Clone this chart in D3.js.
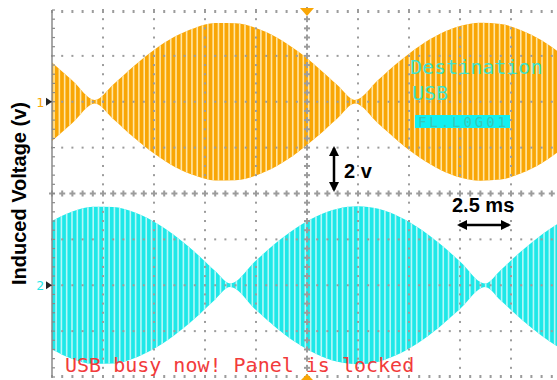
<!DOCTYPE html>
<html>
<head>
<meta charset="utf-8">
<script src="https://cdn.jsdelivr.net/npm/d3@7"></script>
<style>
  body { margin: 0; background: #fff; }
</style>
</head>
<body>
<svg id="chart" width="557" height="380"></svg>
<script>
// scope settings: 2.5 ms/div, 2 V/div
const timeTicks = [-12.5, -10, -7.5, -5, -2.5, 0, 2.5, 5, 7.5, 10, 12.5];
const voltTicks = [-8, -6, -4, -2, 0, 2, 4, 6, 8];

// envelope (half peak-to-peak, V)
const ch1Times = [-12.5, -11.5, -10.4, -9.5, -8.5, -7.5, -6.5, -5.5, -4.5, -3.5, -2.5, -1.5, -0.5, 0.5, 1.5, 2.35, 3.5, 4.5, 5.5, 6.5, 7.5, 8.5, 9.5, 10.5, 11.5, 12.5];
const ch1Amp   = [1.71, 0.93, 0.08, 0.75, 1.55, 2.26, 2.83, 3.22, 3.43, 3.42, 3.21, 2.81, 2.23, 1.52, 0.72, 0.08, 0.96, 1.74, 2.42, 2.95, 3.30, 3.44, 3.39, 3.12, 2.68, 2.06];
const ch2Times = [-12.5, -11.5, -10.5, -9.5, -8.5, -7.5, -6.5, -5.5, -4.5, -3.77, -2.5, -1.5, -0.5, 0.5, 1.5, 2.5, 3.5, 4.5, 5.5, 6.5, 7.5, 8.73, 9.5, 10.5, 11.5, 12.5];
const ch2Amp   = [2.80, 3.21, 3.42, 3.41, 3.19, 2.77, 2.18, 1.45, 0.62, 0.08, 1.08, 1.86, 2.52, 3.02, 3.34, 3.44, 3.33, 3.00, 2.49, 1.82, 1.04, 0.08, 0.67, 1.48, 2.20, 2.80];
const channelOffsets = [4, -4];
const channelNames = ['1', '2'];
const carrierPeriod = 0.26; // ms, one bar per carrier cycle

const svg = d3.select('#chart');
const x = d3.scaleLinear().domain([-12.5, 12.5]).range([52, 562]);
const y = d3.scaleLinear().domain([-8, 8]).range([377, 10]);

const colors = ['#F9A605', '#1EE8E8'];
const paleColors = ['#FFE6A6', '#B6F7F7'];
const gridColor = '#9c9c9c';

const defs = svg.append('defs');
defs.append('clipPath').attr('id', 'plot')
  .append('rect')
  .attr('x', x(-12.5)).attr('y', y(8))
  .attr('width', x(12.5) - x(-12.5)).attr('height', y(-8) - y(8));

defs.append('marker')
  .attr('id', 'head').attr('viewBox', '0 0 10 10')
  .attr('refX', 8).attr('refY', 5)
  .attr('markerWidth', 4).attr('markerHeight', 4)
  .attr('orient', 'auto-start-reverse')
  .append('path').attr('d', 'M0,0 L10,5 L0,10 z').attr('fill', '#000');

// traces
const channels = [
  { times: ch1Times, amp: ch1Amp },
  { times: ch2Times, amp: ch2Amp }
];
const stripes = d3.range(-12.5 + 0.1, 12.5, carrierPeriod);

channels.forEach((ch, i) => {
  const pts = ch.times.map((t, j) => ({ t: t, a: ch.amp[j] }));
  const off = channelOffsets[i];
  const area = d3.area()
    .x(d => x(d.t))
    .y0(d => y(off - d.a))
    .y1(d => y(off + d.a))
    .curve(d3.curveMonotoneX);

  defs.append('clipPath').attr('id', 'env' + i)
    .append('path').attr('d', area(pts));

  const g = svg.append('g').attr('clip-path', 'url(#plot)');
  g.append('path').attr('d', area(pts)).attr('fill', colors[i]);

  g.append('g').attr('clip-path', 'url(#env' + i + ')')
    .selectAll('line')
    .data(stripes)
    .enter()
    .append('line')
    .attr('x1', d => x(d + i * 0.1)).attr('x2', d => x(d + i * 0.1))
    .attr('y1', y(off + 4)).attr('y2', y(off - 4))
    .attr('stroke', paleColors[i])
    .attr('stroke-width', 1.6);
});

// graticule
const grid = svg.append('g');
const minorT = d3.range(-12.5, 12.51, 0.5);
const minorV = d3.range(-8, 8.01, 0.4);

timeTicks.forEach(t => {
  if (t === -12.5) return;
  minorV.forEach(v => {
    if (t === 0) {
      grid.append('rect').attr('x', x(t) - 1).attr('y', y(v) - 3).attr('width', 2).attr('height', 6).attr('fill', gridColor);
      grid.append('rect').attr('x', x(t) - 3).attr('y', y(v) - 1).attr('width', 6).attr('height', 2).attr('fill', gridColor);
    } else {
      grid.append('rect').attr('x', x(t) - 1).attr('y', y(v) - 1).attr('width', 2).attr('height', 2).attr('fill', gridColor);
    }
  });
});

voltTicks.forEach(v => {
  minorT.forEach(t => {
    if (v === 0) {
      grid.append('rect').attr('x', x(t) - 1).attr('y', y(v) - 3).attr('width', 2).attr('height', 6).attr('fill', gridColor);
      grid.append('rect').attr('x', x(t) - 3).attr('y', y(v) - 1).attr('width', 6).attr('height', 2).attr('fill', gridColor);
    } else {
      const h = (v === 8 || v === -8) ? 3 : 2;
      const yy = v === 8 ? y(v) : (v === -8 ? y(v) - 2 : y(v) - 1);
      grid.append('rect').attr('x', x(t) - 1).attr('y', yy).attr('width', 2).attr('height', h).attr('fill', gridColor);
    }
  });
});

// left frame with ticks
grid.append('line')
  .attr('x1', x(-12.5)).attr('x2', x(-12.5))
  .attr('y1', y(8)).attr('y2', y(-8))
  .attr('stroke', '#8a8a8a').attr('stroke-width', 1.5);
grid.selectAll('.ltick')
  .data(minorV)
  .enter()
  .append('line')
  .attr('x1', x(-12.5)).attr('x2', x(-12.5) + 3)
  .attr('y1', d => y(d)).attr('y2', d => y(d))
  .attr('stroke', '#8a8a8a').attr('stroke-width', 1.2);

// trigger position markers
svg.append('path')
  .attr('d', `M${x(0) - 7},${y(8) - 2} L${x(0) + 7},${y(8) - 2} L${x(0)},${y(8) + 6} z`)
  .attr('fill', '#F9A605');
svg.append('path')
  .attr('d', `M${x(0) - 7},${y(-8) + 4} L${x(0) + 7},${y(-8) + 4} L${x(0)},${y(-8) - 3} z`)
  .attr('fill', '#F9A605');

// channel ground markers
channelOffsets.forEach((off, i) => {
  svg.append('path')
    .attr('d', `M${x(-12.5) - 6},${y(off) - 4} L${x(-12.5)},${y(off)} L${x(-12.5) - 6},${y(off) + 4} z`)
    .attr('fill', '#222');
  svg.append('text')
    .attr('x', x(-12.5) - 8).attr('y', y(off) + 5)
    .attr('text-anchor', 'end')
    .attr('font-family', 'DejaVu Sans Mono, monospace')
    .attr('font-size', 13)
    .attr('fill', colors[i])
    .text(channelNames[i]);
});

// scope messages
const mono = 'DejaVu Sans Mono, monospace';
svg.append('text').attr('x', 410).attr('y', 74)
  .attr('font-family', mono).attr('font-size', 20).attr('fill', '#3FE3CC')
  .text('Destination');
svg.append('text').attr('x', 412).attr('y', 100)
  .attr('font-family', mono).attr('font-size', 20).attr('fill', '#3FE3CC')
  .text('USB');
svg.append('rect').attr('x', 415).attr('y', 115).attr('width', 95).attr('height', 13).attr('fill', '#12F0F0');
svg.append('text').attr('x', 418).attr('y', 127)
  .attr('font-family', mono).attr('font-size', 14).attr('fill', '#34C8B8')
  .attr('textLength', 88)
  .text('FL.L0G01');
svg.append('text').attr('x', 65).attr('y', 372)
  .attr('font-family', mono).attr('font-size', 20).attr('fill', '#F23B3B')
  .text('USB busy now! Panel is locked');

// scale annotations
const bold = 'Liberation Sans, Arial, sans-serif';
svg.append('line')
  .attr('x1', 334).attr('x2', 334).attr('y1', 148).attr('y2', 190)
  .attr('stroke', '#000').attr('stroke-width', 2.5)
  .attr('marker-start', 'url(#head)').attr('marker-end', 'url(#head)');
svg.append('text').attr('x', 344).attr('y', 178)
  .attr('font-family', bold).attr('font-weight', 'bold').attr('font-size', 20)
  .text('2 v');
svg.append('line')
  .attr('x1', 459).attr('x2', 509).attr('y1', 225).attr('y2', 225)
  .attr('stroke', '#000').attr('stroke-width', 2.5)
  .attr('marker-start', 'url(#head)').attr('marker-end', 'url(#head)');
svg.append('text').attr('x', 452).attr('y', 212)
  .attr('font-family', bold).attr('font-weight', 'bold').attr('font-size', 20)
  .text('2.5 ms');

// axis title
svg.append('text')
  .attr('transform', `translate(26, ${y(0)}) rotate(-90)`)
  .attr('text-anchor', 'middle')
  .attr('font-family', bold).attr('font-weight', 'bold').attr('font-size', 20)
  .text('Induced Voltage (v)');
</script>
</body>
</html>
